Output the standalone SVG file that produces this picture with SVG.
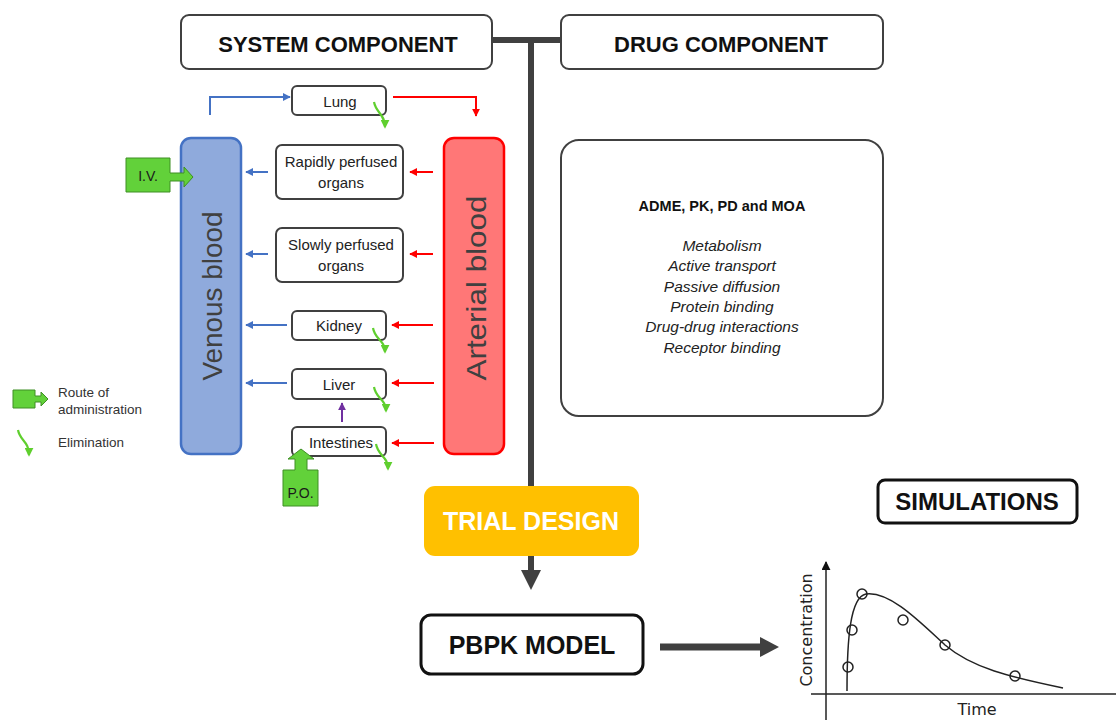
<svg xmlns="http://www.w3.org/2000/svg" width="1116" height="720" viewBox="0 0 1116 720">
<defs>
<style>
text{font-family:"Liberation Sans",Arial,sans-serif;fill:#1a1a1a}
.hdr{font-weight:bold;font-size:22px;text-anchor:middle;fill:#111}
.big{font-weight:bold;font-size:25px;text-anchor:middle;fill:#111}
.org{font-size:15px;text-anchor:middle;fill:#222}
.box{fill:#fff;stroke:#404040;stroke-width:2}
.obox{fill:#fff;stroke:#404040;stroke-width:2}
.blue{stroke:#4472C4;stroke-width:2;fill:none;marker-end:url(#mb)}
.red{stroke:#FF0000;stroke-width:2;fill:none;marker-end:url(#mr)}
.elim{stroke:#5FCF2E;stroke-width:2.2;fill:none;marker-end:url(#mg)}
.green{fill:#62D13A;stroke:#3F8F24;stroke-width:1}
.it{font-style:italic;font-size:15.5px;text-anchor:middle;fill:#222}
.leg{font-size:13.5px;fill:#333}
.dk{stroke:#404040;fill:none}
.ax{stroke:#222;stroke-width:1.5;fill:none}
.ch{font-family:"DejaVu Sans",sans-serif;font-size:16px;fill:#222;text-anchor:middle}
</style>
<marker id="mb" viewBox="0 0 10 10" refX="9" refY="5" markerWidth="8" markerHeight="8" orient="auto" markerUnits="userSpaceOnUse"><path d="M0,0 L10,5 L0,10 z" fill="#4472C4"/></marker>
<marker id="mr" viewBox="0 0 10 10" refX="9" refY="5" markerWidth="8" markerHeight="8" orient="auto" markerUnits="userSpaceOnUse"><path d="M0,0 L10,5 L0,10 z" fill="#FF0000"/></marker>
<marker id="mg" viewBox="0 0 10 10" refX="8" refY="5" markerWidth="9" markerHeight="9" orient="auto" markerUnits="userSpaceOnUse"><path d="M0,0 L10,5 L0,10 z" fill="#5FCF2E"/></marker>
<marker id="mp" viewBox="0 0 10 10" refX="9" refY="5" markerWidth="8" markerHeight="8" orient="auto" markerUnits="userSpaceOnUse"><path d="M0,0 L10,5 L0,10 z" fill="#7030A0"/></marker>
<marker id="mk" viewBox="0 0 10 10" refX="9" refY="5" markerWidth="9" markerHeight="9" orient="auto" markerUnits="userSpaceOnUse"><path d="M0,0 L10,5 L0,10 z" fill="#111"/></marker>
</defs>
<rect width="1116" height="720" fill="#fff"/>

<!-- connectors -->
<g id="connectors">
<line class="dk" x1="492" y1="40" x2="561" y2="40" stroke-width="6"/>
<line class="dk" x1="531" y1="40" x2="531" y2="572" stroke-width="6"/>
<polygon points="521,570 541,570 531,590" fill="#404040"/>
<line class="dk" x1="660" y1="647" x2="762" y2="647" stroke-width="7"/>
<polygon points="760,637 779,647 760,657" fill="#404040"/>
<path class="blue" d="M210,115 V97 H290"/>
<path class="red" d="M393,97 H476 V116"/>
<line class="blue" x1="268" y1="172" x2="246" y2="172"/>
<line class="blue" x1="268" y1="254" x2="246" y2="254"/>
<line class="blue" x1="287" y1="325" x2="246" y2="325"/>
<line class="blue" x1="287" y1="383" x2="246" y2="383"/>
<line class="red" x1="433" y1="172" x2="410" y2="172"/>
<line class="red" x1="433" y1="254" x2="410" y2="254"/>
<line class="red" x1="433" y1="325" x2="392" y2="325"/>
<line class="red" x1="434" y1="383" x2="392" y2="383"/>
<line class="red" x1="434" y1="443" x2="392" y2="443"/>
<line x1="342" y1="422" x2="342" y2="403" stroke="#7030A0" stroke-width="2" marker-end="url(#mp)"/>
</g>

<g id="system-component">
<rect x="181" y="15" width="311" height="54" rx="8" class="box"/>
<text x="338" y="52" class="hdr">SYSTEM COMPONENT</text>
</g>
<g id="drug-component">
<rect x="561" y="15" width="322" height="54" rx="8" class="box"/>
<text x="721" y="52" class="hdr">DRUG COMPONENT</text>
</g>

<g id="venous-blood">
<rect x="181" y="138" width="60" height="316" rx="10" fill="#8FAADC" stroke="#4472C4" stroke-width="2.5"/>
<text transform="translate(222,296) rotate(-90)" font-size="28" text-anchor="middle" style="fill:#404040" textLength="169" lengthAdjust="spacingAndGlyphs">Venous blood</text>
</g>
<g id="arterial-blood">
<rect x="444" y="138" width="60" height="316" rx="10" fill="#FF7777" stroke="#FF0000" stroke-width="2.5"/>
<text transform="translate(486,288) rotate(-90)" font-size="28" text-anchor="middle" style="fill:#404040" textLength="185" lengthAdjust="spacingAndGlyphs">Arterial blood</text>
</g>

<g id="lung">
<rect x="292" y="86" width="94" height="29" rx="5" class="obox"/>
<text x="340" y="107" class="org">Lung</text>
<path class="elim" d="M374,102 C376,113 385,114 385,127"/>
</g>
<g id="rapidly">
<rect x="276" y="145" width="127" height="54" rx="6" class="obox"/>
<text x="341" y="167" class="org">Rapidly perfused</text>
<text x="341" y="188" class="org">organs</text>
</g>
<g id="slowly">
<rect x="276" y="228" width="127" height="54" rx="6" class="obox"/>
<text x="341" y="250" class="org">Slowly perfused</text>
<text x="341" y="271" class="org">organs</text>
</g>
<g id="kidney">
<rect x="292" y="311" width="94" height="29" rx="5" class="obox"/>
<text x="339" y="331" class="org">Kidney</text>
<path class="elim" d="M373,328 C375,340 385,340 385,352"/>
</g>
<g id="liver">
<rect x="292" y="369" width="94" height="30" rx="5" class="obox"/>
<text x="339" y="390" class="org">Liver</text>
<path class="elim" d="M374,387 C376,399 386,399 386,411"/>
</g>
<g id="intestines">
<rect x="292" y="427" width="94" height="29" rx="5" class="obox"/>
<text x="341" y="448" class="org">Intestines</text>
<path class="elim" d="M376,444 C378,456 388,456 388,469"/>
</g>

<g id="iv">
<polygon class="green" points="126,158 170,158 170,173 184,173 184,167 193,177 184,187 184,181 170,181 170,192 126,192"/>
<text x="148" y="181" font-size="14" text-anchor="middle">I.V.</text>
</g>
<g id="po">
<polygon class="green" points="283,470 295,470 295,459 288,459 301,449 314,459 307,459 307,470 318,470 318,506 283,506"/>
<text x="300.5" y="498" font-size="14" text-anchor="middle">P.O.</text>
</g>

<g id="legend">
<polygon class="green" points="13,390 35,390 35,396 41,396 41,392 48,399 41,406 41,402 35,402 35,408 13,408"/>
<text x="58" y="397" class="leg">Route of</text>
<text x="58" y="414" class="leg">administration</text>
<path class="elim" d="M18,430 C20,441 29,441 29,455"/>
<text x="58" y="447" class="leg">Elimination</text>
</g>

<g id="drug-details">
<rect x="561" y="140" width="322" height="276" rx="18" class="box"/>
<text x="722" y="211" font-size="14.5" font-weight="bold" text-anchor="middle" style="fill:#111">ADME, PK, PD and MOA</text>
<text x="722" y="251" class="it">Metabolism</text>
<text x="722" y="271" class="it">Active transport</text>
<text x="722" y="292" class="it">Passive diffusion</text>
<text x="722" y="312" class="it">Protein binding</text>
<text x="722" y="332" class="it">Drug-drug interactions</text>
<text x="722" y="353" class="it">Receptor binding</text>
</g>

<g id="trial-design">
<rect x="424" y="486" width="215" height="70" rx="11" fill="#FFC000"/>
<text x="531" y="530" class="big" style="fill:#fff">TRIAL DESIGN</text>
</g>

<g id="pbpk-model">
<rect x="421" y="615" width="222" height="59" rx="10" fill="#fff" stroke="#111" stroke-width="3"/>
<text x="532" y="654" class="big">PBPK MODEL</text>
</g>

<g id="simulations">
<rect x="878" y="480" width="199" height="43" rx="7" fill="#fff" stroke="#111" stroke-width="3"/>
<text x="977" y="510" font-size="24" font-weight="bold" text-anchor="middle" style="fill:#111">SIMULATIONS</text>
</g>

<g id="chart">
<line class="ax" x1="826" y1="720" x2="826" y2="562" marker-end="url(#mk)"/>
<line class="ax" x1="811" y1="694" x2="1116" y2="694"/>
<path d="M847,691 C847,640 850,597 866,594 C890,591 920,622 945,645 C972,668 1010,677 1063,688" fill="none" stroke="#222" stroke-width="1.5"/>
<g fill="none" stroke="#222" stroke-width="1.5">
<circle cx="848" cy="667" r="5"/>
<circle cx="852" cy="630" r="5"/>
<circle cx="862" cy="594" r="5"/>
<circle cx="903" cy="620" r="5"/>
<circle cx="945" cy="645" r="5"/>
<circle cx="1015" cy="676" r="5"/>
</g>
<text transform="translate(812,630) rotate(-90)" class="ch">Concentration</text>
<text x="977" y="715" class="ch">Time</text>
</g>
</svg>
